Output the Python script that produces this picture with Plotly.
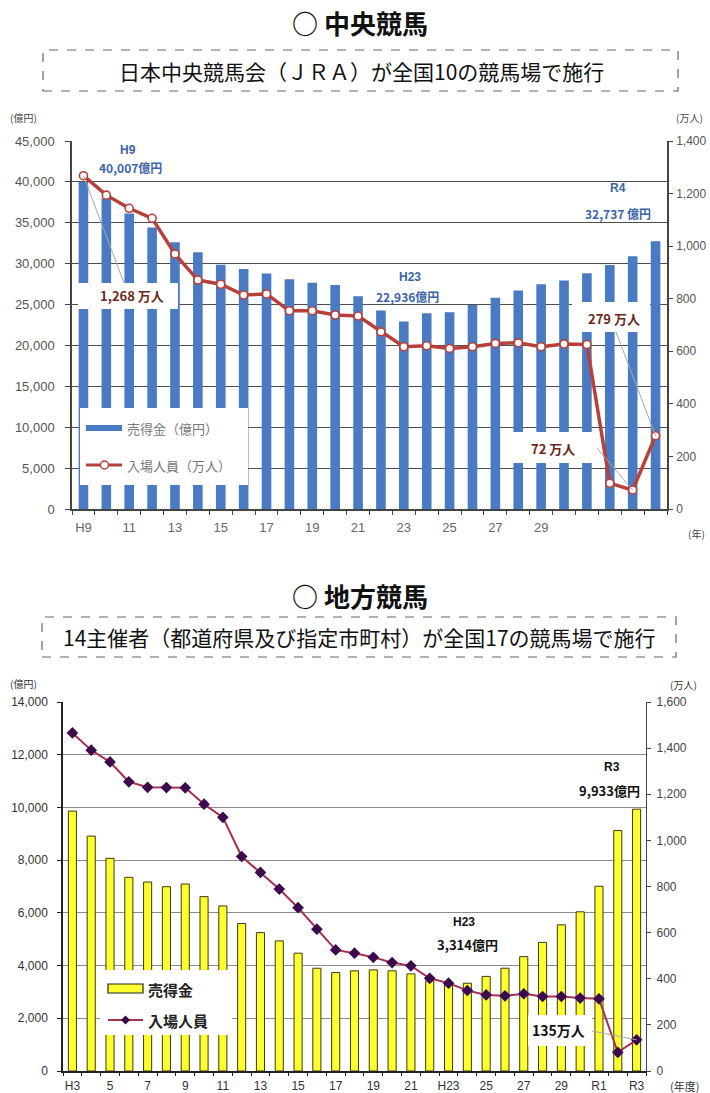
import plotly.graph_objects as go

W, H = 710, 1093

# ---- 中央競馬 (JRA) ----
jra_years = ["H9", "H10", "H11", "H12", "H13", "H14", "H15", "H16", "H17", "H18",
             "H19", "H20", "H21", "H22", "H23", "H24", "H25", "H26", "H27", "H28",
             "H29", "H30", "R1", "R2", "R3", "R4"]
jra_tick_text = ["H9", "", "11", "", "13", "", "15", "", "17", "", "19", "", "21", "",
                 "23", "", "25", "", "27", "", "29", "", "", "", "", ""]
jra_sales = [40007, 38001, 36141, 34434, 32634, 31384, 29870, 29343, 28794, 28099,
             27670, 27396, 26001, 24275, 22936, 23944, 24049, 24934, 25834, 26719,
             27476, 27950, 28818, 29834, 30914, 32737]          # 売得金（億円）
jra_attendance = [1268, 1194, 1144, 1106, 970, 871, 855, 814, 818, 754,
                  754, 738, 734, 674, 617, 621, 611, 617, 630, 632,
                  617, 628, 626, 98, 72, 279]                       # 入場人員（万人）

# ---- 地方競馬 ----
nar_years = ["H3", "H4", "H5", "H6", "H7", "H8", "H9", "H10", "H11", "H12",
             "H13", "H14", "H15", "H16", "H17", "H18", "H19", "H20", "H21", "H22",
             "H23", "H24", "H25", "H26", "H27", "H28", "H29", "H30", "R1", "R2", "R3"]
nar_tick_text = ["H3", "", "5", "", "7", "", "9", "", "11", "", "13", "", "15", "",
                 "17", "", "19", "", "21", "", "H23", "", "25", "", "27", "", "29", "",
                 "R1", "", "R3"]
nar_sales = [9862, 8912, 8068, 7348, 7170, 6993, 7095, 6614, 6262, 5595,
             5250, 4935, 4470, 3900, 3735, 3800, 3837, 3800, 3685, 3420,
             3314, 3330, 3590, 3900, 4340, 4880, 5545, 6040, 7010, 9122, 9933]
nar_attendance = [1466, 1391, 1340, 1254, 1230, 1229, 1228, 1157, 1100, 930,
                  861, 789, 708, 615, 525, 511, 493, 470, 456, 402,
                  381, 349, 330, 326, 335, 323, 323, 316, 313, 81, 135]

JP = "Noto Sans CJK JP"
NUM = "Liberation Sans, Noto Sans CJK JP"

# plot-area frames in page pixels (left, right, top, bottom)
TOP = dict(l=72, r=667, t=141, b=509)
BOT = dict(l=63, r=646, t=702, b=1071)


def fx(x):
    return x / W


def fy(y):
    return 1 - y / H


def to_data(frame, n, ymax, px, py):
    """page pixel -> (category index, value) in a frame's axes"""
    step = (frame["r"] - frame["l"]) / n
    xi = (px - frame["l"]) / step - 0.5
    yv = (frame["b"] - py) / (frame["b"] - frame["t"]) * ymax
    return xi, yv


fig = go.Figure()

fig.add_trace(go.Bar(x=jra_years, y=jra_sales, xaxis="x", yaxis="y",
                     marker=dict(color="#4a7bc2", line=dict(width=0)),
                     width=0.42, name="売得金（億円）"))
fig.add_trace(go.Scatter(x=jra_years, y=jra_attendance, xaxis="x", yaxis="y2",
                         mode="lines+markers",
                         line=dict(color="#b8403a", width=3.5),
                         marker=dict(symbol="circle", size=8, color="white",
                                     line=dict(color="#b8403a", width=1.6)),
                         name="入場人員（万人）"))

fig.add_trace(go.Bar(x=nar_years, y=nar_sales, xaxis="x2", yaxis="y3",
                     marker=dict(color="#ffff2e", line=dict(color="#3a3a10", width=1)),
                     width=0.43, name="売得金"))
fig.add_trace(go.Scatter(x=nar_years, y=nar_attendance, xaxis="x2", yaxis="y4",
                         mode="lines+markers",
                         line=dict(color="#a8304f", width=2),
                         marker=dict(symbol="diamond", size=9, color="#3b0b4e"),
                         name="入場人員"))

axis_common = dict(automargin=False, zeroline=False)

fig.update_layout(
    width=W, height=H, autosize=False,
    margin=dict(l=0, r=0, t=0, b=0),
    paper_bgcolor="white", plot_bgcolor="white",
    showlegend=False, barmode="overlay",
    font=dict(family=NUM, color="#555555"),
    xaxis=dict(domain=[fx(TOP["l"]), fx(TOP["r"])], anchor="y", type="category",
               range=[-0.5, len(jra_years) - 0.5],
               tickmode="array", tickvals=jra_years, ticktext=jra_tick_text,
               tickangle=0, tickson="boundaries", ticks="outside", ticklen=4,
               tickcolor="#444", showline=True, linecolor="#444", linewidth=1.5,
               showgrid=False, tickfont=dict(size=13, color="#666"),
               ticklabelstandoff=6, **axis_common),
    yaxis=dict(domain=[fy(TOP["b"]), fy(TOP["t"])], anchor="x", range=[0, 45000],
               dtick=5000, tickformat=",", showgrid=True, gridcolor="#4d4d4d",
               gridwidth=1.4, showline=True, linecolor="#444", linewidth=1.5,
               ticks="outside", ticklen=5, tickcolor="#444",
               tickfont=dict(size=13, color="#555"), ticklabelstandoff=8, **axis_common),
    yaxis2=dict(overlaying="y", side="right", anchor="x", range=[0, 1400], dtick=200,
                tickformat=",", showgrid=False, showline=True, linecolor="#444",
                linewidth=1.5, ticks="outside", ticklen=4, tickcolor="#444",
                tickfont=dict(size=12, color="#555"), ticklabelstandoff=1, **axis_common),
    xaxis2=dict(domain=[fx(BOT["l"]), fx(BOT["r"])], anchor="y3", type="category",
                range=[-0.5, len(nar_years) - 0.5],
                tickmode="array", tickvals=nar_years, ticktext=nar_tick_text,
                tickangle=0, tickson="boundaries", ticks="outside", ticklen=3,
                tickcolor="#222", showline=True, linecolor="#222", linewidth=1.5,
                showgrid=False, tickfont=dict(size=12, color="#333"),
                ticklabelstandoff=3, **axis_common),
    yaxis3=dict(domain=[fy(BOT["b"]), fy(BOT["t"])], anchor="x2", range=[0, 14000],
                dtick=2000, tickformat=",", showgrid=True, gridcolor="#8c8c8c",
                gridwidth=1.4, showline=True, linecolor="#222", linewidth=1.5,
                ticks="outside", ticklen=4, tickcolor="#222",
                tickfont=dict(size=12, color="#333"), ticklabelstandoff=7, **axis_common),
    yaxis4=dict(overlaying="y3", side="right", anchor="x2", range=[0, 1600], dtick=200,
                tickformat=",", showgrid=False, showline=True, linecolor="#444",
                linewidth=1.2, ticks="outside", ticklen=4, tickcolor="#444",
                tickfont=dict(size=12, color="#444"), ticklabelstandoff=3, **axis_common),
)

shapes = []
annotations = []


def box(x0, y0, x1, y1, **kw):
    shapes.append(dict(type="rect", xref="paper", yref="paper",
                       x0=fx(x0), x1=fx(x1), y0=fy(y1), y1=fy(y0),
                       layer="above", **kw))


def text(t, x, y, size, color, bold=False, family=JP, xanchor="center"):
    annotations.append(dict(text=f"<b>{t}</b>" if bold else t,
                            xref="paper", yref="paper", x=fx(x), y=fy(y),
                            xanchor=xanchor, yanchor="middle", showarrow=False,
                            font=dict(size=size, color=color, family=family)))


def leader(frame, n, ymax, xref, yref, px, py, cat_index, value):
    x0, y0 = to_data(frame, n, ymax, px, py)
    shapes.append(dict(type="line", xref=xref, yref=yref, x0=x0, y0=y0,
                       x1=cat_index, y1=value, layer="above",
                       line=dict(color="#a8a8a8", width=1)))


# ---- headings ----
text("○ 中央競馬", 360, 23, 26, "#111", bold=True)
box(43, 50, 678, 91, line=dict(color="#666", width=1.2, dash="dash"), fillcolor="rgba(0,0,0,0)")
text("日本中央競馬会（ＪＲＡ）が全国10の競馬場で施行", 361, 71, 21, "#111")

text("○ 地方競馬", 360, 595, 26, "#111", bold=True)
box(42, 617, 676, 657, line=dict(color="#666", width=1.2, dash="dash"), fillcolor="rgba(0,0,0,0)")
text("14主催者（都道府県及び指定市町村）が全国17の競馬場で施行", 359, 637, 21, "#111")

# ---- 中央競馬: unit labels ----
text("(億円)", 8, 117, 10, "#444", xanchor="left")
text("(万人)", 674, 117, 10, "#444", xanchor="left")
text("(年)", 686, 533, 10, "#444", xanchor="left")

# ---- 中央競馬: callouts ----
n_j = len(jra_years)
i_h23 = jra_years.index("H23")
text("H9", 128, 150, 12, "#3b64a8", bold=True, family=NUM)
text(f"{jra_sales[0]:,}億円", 130, 168, 12, "#3b64a8", bold=True)
text("H23", 410, 277, 12, "#3b64a8", bold=True, family=NUM)
text(f"{jra_sales[i_h23]:,}億円", 407, 297, 12, "#3b64a8", bold=True)
text("R4", 618, 188, 12, "#3b64a8", bold=True, family=NUM)
text(f"{jra_sales[-1]:,} 億円", 618, 214, 12, "#3b64a8", bold=True)

box(78, 283, 178, 309, line=dict(width=0), fillcolor="white")
box(572, 302, 650, 332, line=dict(width=0), fillcolor="white")
box(505, 432, 597, 463, line=dict(width=0), fillcolor="white")
leader(TOP, n_j, 1400, "x", "y2", 124, 283, 0, jra_attendance[0])
leader(TOP, n_j, 1400, "x", "y2", 616, 332, n_j - 1, jra_attendance[-1])
leader(TOP, n_j, 1400, "x", "y2", 597, 448, n_j - 2, jra_attendance[-2])
text(f"{jra_attendance[0]:,} 万人", 132, 296, 13, "#6a2a22", bold=True)
text(f"{jra_attendance[-1]:,} 万人", 614, 318, 13, "#6a2a22", bold=True)
text(f"{jra_attendance[-2]:,} 万人", 553, 448, 13, "#6a2a22", bold=True)

# ---- 中央競馬: legend ----
box(80, 408, 248, 485, line=dict(width=0), fillcolor="white")
shapes.append(dict(type="line", xref="paper", yref="paper", x0=fx(86), x1=fx(122),
                   y0=fy(428), y1=fy(428), layer="above",
                   line=dict(color="#4a7bc2", width=6)))
shapes.append(dict(type="line", xref="paper", yref="paper", x0=fx(86), x1=fx(122),
                   y0=fy(465), y1=fy(465), layer="above",
                   line=dict(color="#b8403a", width=3)))
shapes.append(dict(type="circle", xref="paper", yref="paper", x0=fx(100.5), x1=fx(108.5),
                   y0=fy(469), y1=fy(461), layer="above", fillcolor="white",
                   line=dict(color="#b8403a", width=1.5)))
text("売得金（億円）", 125, 428, 13, "#777", xanchor="left")
text("入場人員（万人）", 125, 465, 13, "#777", xanchor="left")

# ---- 地方競馬: unit labels ----
text("(億円)", 8, 683, 10, "#333", xanchor="left")
text("(万人)", 668, 684, 10, "#333", xanchor="left")
text("(年度)", 668, 1086, 11, "#333", xanchor="left")

# ---- 地方競馬: callouts ----
n_n = len(nar_years)
i_n23 = nar_years.index("H23")
text("H23", 464, 922, 12, "#111", bold=True, family=NUM)
text(f"{nar_sales[i_n23]:,}億円", 467, 944, 13, "#111", bold=True)
text("R3", 612, 767, 12, "#111", bold=True, family=NUM)
text(f"{nar_sales[-1]:,}億円", 609, 790, 13, "#111", bold=True)
box(528, 1015, 592, 1046, line=dict(width=0), fillcolor="white")
leader(BOT, n_n, 1600, "x2", "y4", 592, 1031, n_n - 1, nar_attendance[-1])
text(f"{nar_attendance[-1]:,}万人", 558, 1030, 14, "#111", bold=True)

# ---- 地方競馬: legend ----
box(100, 970, 232, 1035, line=dict(width=0), fillcolor="white")
box(108, 984, 143, 993, line=dict(color="#222", width=1.2), fillcolor="#ffff2e")
shapes.append(dict(type="line", xref="paper", yref="paper", x0=fx(108), x1=fx(143),
                   y0=fy(1020), y1=fy(1020), layer="above",
                   line=dict(color="#a8304f", width=2)))
shapes.append(dict(type="path", xref="paper", yref="paper", layer="above",
                   path=(f"M {fx(125.5)} {fy(1015.5)} L {fx(130)} {fy(1020)} "
                         f"L {fx(125.5)} {fy(1024.5)} L {fx(121)} {fy(1020)} Z"),
                   fillcolor="#3b0b4e", line=dict(width=0)))
text("売得金", 146, 989, 15, "#222", bold=True, xanchor="left")
text("入場人員", 146, 1020, 15, "#222", bold=True, xanchor="left")

fig.update_layout(shapes=shapes, annotations=annotations)

fig.write_html("out.html")
